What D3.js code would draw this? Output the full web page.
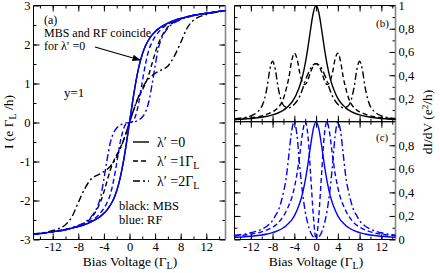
<!DOCTYPE html>
<html><head><meta charset="utf-8">
<script src="https://cdn.jsdelivr.net/npm/d3@7"></script>
<style>body{margin:0;background:#fff} svg text{font-family:"Liberation Serif","Times New Roman",serif !important;fill:#000}</style>
</head><body><svg id="c" width="440" height="273" font-family="Liberation Serif"></svg>
<script>
// ---------- data ----------
const VA = [-15,-14,-12,-10,-9,-8,-7,-6,-5,-4.5,-4,-3.5,-3,-2.5,-2,-1.5,-1,-0.5,0,0.5,1,1.5,2,2.5,3,3.5,4,4.5,5,6,7,8,9,10,12,14,15];
const I_solid   = [-2.87,-2.85,-2.8,-2.75,-2.71,-2.67,-2.62,-2.55,-2.46,-2.4,-2.33,-2.24,-2.12,-1.97,-1.75,-1.45,-1.05,-0.55,0,0.55,1.05,1.45,1.75,1.97,2.12,2.24,2.33,2.4,2.46,2.55,2.62,2.67,2.71,2.75,2.8,2.85,2.87];
const I_mbs1    = [-2.87,-2.85,-2.8,-2.74,-2.7,-2.65,-2.58,-2.45,-2.2,-2.02,-1.78,-1.5,-1.22,-1.0,-0.83,-0.67,-0.48,-0.25,0,0.25,0.48,0.67,0.83,1.0,1.22,1.5,1.78,2.02,2.2,2.45,2.58,2.65,2.7,2.74,2.8,2.85,2.87];
const I_mbs2    = [-2.86,-2.84,-2.77,-2.62,-2.42,-2.05,-1.7,-1.45,-1.35,-1.31,-1.26,-1.2,-1.12,-1.02,-0.88,-0.7,-0.49,-0.25,0,0.25,0.49,0.7,0.88,1.02,1.12,1.2,1.26,1.31,1.35,1.45,1.7,2.05,2.42,2.62,2.77,2.84,2.86];
const I_rf1     = [-2.87,-2.85,-2.8,-2.75,-2.71,-2.66,-2.6,-2.52,-2.4,-2.31,-2.2,-2.05,-1.85,-1.5,-1.05,-0.55,-0.2,-0.03,0,0.03,0.2,0.55,1.05,1.5,1.85,2.05,2.2,2.31,2.4,2.52,2.6,2.66,2.71,2.75,2.8,2.85,2.87];
const I_rf2     = [-2.87,-2.85,-2.8,-2.74,-2.7,-2.64,-2.56,-2.42,-2.15,-1.9,-1.45,-0.95,-0.52,-0.27,-0.14,-0.07,-0.03,-0.01,0,0.01,0.03,0.07,0.14,0.27,0.52,0.95,1.45,1.9,2.15,2.42,2.56,2.64,2.7,2.74,2.8,2.85,2.87];

const VB = [-15,-14,-12,-10,-9,-8.5,-8,-7.5,-7,-6,-5.5,-5,-4.5,-4,-3.5,-3,-2.5,-2,-1.5,-1,-0.5,0,0.5,1,1.5,2,2.5,3,3.5,4,4.5,5,5.5,6,7,7.5,8,8.5,9,10,12,14,15];
const G_solid = [0.017,0.02,0.027,0.038,0.047,0.052,0.059,0.066,0.075,0.1,0.117,0.14,0.165,0.2,0.25,0.31,0.39,0.5,0.64,0.8,0.94,1,0.94,0.8,0.64,0.5,0.39,0.31,0.25,0.2,0.165,0.14,0.117,0.1,0.075,0.066,0.059,0.052,0.047,0.038,0.027,0.02,0.017];
const G_mbs1  = [0.021,0.025,0.034,0.05,0.065,0.075,0.085,0.1,0.12,0.2,0.28,0.38,0.52,0.59,0.54,0.42,0.34,0.32,0.36,0.43,0.48,0.5,0.48,0.43,0.36,0.32,0.34,0.42,0.54,0.59,0.52,0.38,0.28,0.2,0.12,0.1,0.085,0.075,0.065,0.05,0.034,0.025,0.021];
const G_mbs2  = [0.025,0.03,0.05,0.13,0.3,0.45,0.52,0.45,0.3,0.14,0.125,0.12,0.13,0.15,0.18,0.22,0.28,0.35,0.41,0.46,0.49,0.5,0.49,0.46,0.41,0.35,0.28,0.22,0.18,0.15,0.13,0.12,0.125,0.14,0.3,0.45,0.52,0.45,0.3,0.13,0.05,0.03,0.025];
const G_rf1   = [0.029,0.033,0.045,0.065,0.082,0.093,0.105,0.12,0.14,0.2,0.24,0.29,0.35,0.44,0.56,0.72,0.9,1.0,0.88,0.55,0.2,0,0.2,0.55,0.88,1.0,0.9,0.72,0.56,0.44,0.35,0.29,0.24,0.2,0.14,0.12,0.105,0.093,0.082,0.065,0.045,0.033,0.029];
const G_rf2   = [0.034,0.04,0.057,0.088,0.115,0.135,0.16,0.2,0.24,0.4,0.52,0.72,0.92,1.0,0.88,0.62,0.4,0.24,0.13,0.06,0.02,0,0.02,0.06,0.13,0.24,0.4,0.62,0.88,1.0,0.92,0.72,0.52,0.4,0.24,0.2,0.16,0.135,0.115,0.088,0.057,0.04,0.034];

const xTicks = [-12,-8,-4,0,4,8,12];
const yTicksA = [-3,-2,-1,0,1,2,3];
const yTicksB = [0.2,0.4,0.6,0.8,1];
const yTicksC = [0,0.2,0.4,0.6,0.8];
const legendLabels = ["λ′ =0","λ′ =1Γ","λ′ =2Γ"];

// ---------- layout ----------
const FONT = "Liberation Serif";
const svg = d3.select("#c");
const BLUE = "#0000ff";
const styles = {solid:null, dash:"5,3", dashdot:"7,3,2,3"};

const xA = d3.scaleLinear().domain([-15,15]).range([33.5,225.5]);
const yA = d3.scaleLinear().domain([-3,3]).range([239.5,5.5]);
const xB = d3.scaleLinear().domain([-15,14.6]).range([234.5,395.5]);
const yB = d3.scaleLinear().domain([0,1]).range([121.7,5.5]);
const yC = d3.scaleLinear().domain([0,1]).range([239.5,121.7]);

function range(a,b,s){const r=[];for(let v=a;v<=b+1e-9;v+=s)r.push(+v.toFixed(6));return r;}

function frame(x, y, o){
  const [x0,x1]=x.range(), [y0,y1]=y.range();
  const g = svg.append("g");
  const fmt = d=> (d<0?"-":"")+Math.abs(d);
  function ax(axisFn, pos, ticks, minor, labels, fmtF){
    const gg = g.append("g").attr("transform",pos);
    gg.call(axisFn.tickValues(minor).tickSize(-3).tickFormat(""));
    const gm = g.append("g").attr("transform",pos);
    gm.call(axisFn.tickValues(ticks).tickSize(-6).tickPadding(3).tickFormat(labels?fmtF:""));
    [gg,gm].forEach(s=>{s.select(".domain").remove(); s.selectAll("line").attr("stroke","#000"); s.attr("font-family",FONT);});
    gm.selectAll("text").style("font-size","12.5px").attr("fill","#000").attr("font-family",FONT);
    return gm;
  }
  ax(d3.axisBottom(x), `translate(0,${y0})`, xTicks, range(-14,14,2), o.xlab, fmt);
  ax(d3.axisTop(x), `translate(0,${y1})`, xTicks, range(-14,14,2), false, fmt);
  ax(d3.axisLeft(y), `translate(${x0},0)`, o.yt, o.ym, o.ylabL, fmt);
  ax(d3.axisRight(y), `translate(${x1},0)`, o.yt, o.ym, o.ylabR, o.rfmt||fmt);
  g.append("line").attr("x1",x0).attr("x2",x1).attr("y1",y0).attr("y2",y0).attr("stroke","#000");
  g.append("line").attr("x1",x0).attr("x2",x1).attr("y1",y1).attr("y2",y1).attr("stroke","#000");
  g.append("line").attr("x1",x0).attr("x2",x0).attr("y1",y0).attr("y2",y1).attr("stroke","#000");
  g.append("line").attr("x1",x1).attr("x2",x1).attr("y1",y0).attr("y2",y1).attr("stroke","#888").attr("stroke-width",1.6);
}

frame(xA,yA,{xlab:true,ylabL:true,yt:yTicksA,ym:range(-2.5,2.5,0.5)});
const rfmt = d=> d===0?"0":(d===1?"1":d3.format(".1f")(d).replace(".",","));
frame(xB,yB,{xlab:false,ylabR:true,yt:yTicksB,ym:range(0.1,0.9,0.1),rfmt});
frame(xB,yC,{xlab:true,ylabR:true,yt:yTicksC,ym:range(0.1,0.9,0.1),rfmt});

function clip(id,x,y){
  svg.append("clipPath").attr("id",id).append("rect")
    .attr("x",x.range()[0]).attr("y",y.range()[1]).attr("width",x.range()[1]-x.range()[0]).attr("height",y.range()[0]-y.range()[1]);
}
clip("ca",xA,yA); clip("cb",xB,yB); clip("cc",xB,yC);

function curve(clipId, xs, ys, X, Y, color, style){
  const line = d3.line().x((d,i)=>X(xs[i])).y(d=>Y(d)).curve(d3.curveMonotoneX);
  svg.append("path").attr("clip-path",`url(#${clipId})`).attr("d",line(ys))
    .attr("fill","none").attr("stroke",color).attr("stroke-width",1.4)
    .attr("stroke-dasharray",styles[style]);
}
curve("ca",VA,I_mbs2,xA,yA,"#000","dashdot");
curve("ca",VA,I_mbs1,xA,yA,"#000","dash");
curve("ca",VA,I_solid,xA,yA,"#000","solid");
curve("ca",VA,I_rf2,xA,yA,BLUE,"dashdot");
curve("ca",VA,I_rf1,xA,yA,BLUE,"dash");
curve("ca",VA,I_solid,xA,yA,BLUE,"solid");

curve("cb",VB,G_mbs2,xB,yB,"#000","dashdot");
curve("cb",VB,G_mbs1,xB,yB,"#000","dash");
curve("cb",VB,G_solid,xB,yB,"#000","solid");
curve("cc",VB,G_rf2,xB,yC,BLUE,"dashdot");
curve("cc",VB,G_rf1,xB,yC,BLUE,"dash");
curve("cc",VB,G_solid,xB,yC,BLUE,"solid");

function txt(x,y,s,size,anchor){return svg.append("text").attr("x",x).attr("y",y).attr("font-family",FONT).style("font-size",size+"px").attr("text-anchor",anchor||"start").text(s);}

// legend
const legStyles=["solid","dash","dashdot"], legY=[142,161,181];
legendLabels.forEach((t,i)=>{
  svg.append("line").attr("x1",133).attr("x2",149).attr("y1",legY[i]).attr("y2",legY[i])
    .attr("stroke","#000").attr("stroke-width",1.4).attr("stroke-dasharray",styles[legStyles[i]]);
  const tx = txt(157,legY[i]+5,t,14);
  if(i>0) tx.append("tspan").attr("baseline-shift","-30%").style("font-size","10px").text("L");
});

txt(119,210,"black: MBS",12.5);
txt(119,224,"blue: RF",12.5);
txt(44,24,"(a)",12);
txt(44,37,"MBS and RF coincide",12);
txt(44,50,"for λ′ =0",12);
txt(64,97,"y=1",13);
txt(376,27,"(b)",11);
txt(376,141,"(c)",11);

svg.append("defs").append("marker").attr("id","ah").attr("viewBox","0 0 10 10").attr("refX",9).attr("refY",5)
  .attr("markerWidth",7).attr("markerHeight",7).attr("orient","auto")
  .append("path").attr("d","M0,1 L10,5 L0,9 z").attr("fill","#000");
svg.append("line").attr("x1",95).attr("y1",47).attr("x2",140).attr("y2",60).attr("stroke","#000").attr("stroke-width",1.2).attr("marker-end","url(#ah)");

function bias(cx){
  const t = txt(cx,266,"Bias Voltage (Γ",13.5,"middle");
  t.append("tspan").attr("baseline-shift","-30%").style("font-size","10px").text("L");
  t.append("tspan").text(")");
}
bias(130); bias(316);
const yl = svg.append("text").attr("font-family",FONT).attr("transform","translate(13,122) rotate(-90)").attr("text-anchor","middle").style("font-size","13.5px").text("I (e Γ");
yl.append("tspan").attr("baseline-shift","-30%").style("font-size","10px").text("L");
yl.append("tspan").text(" /h)");
const yr = svg.append("text").attr("font-family",FONT).attr("transform","translate(432,122) rotate(-90)").attr("text-anchor","middle").style("font-size","13.5px").text("dI/dV (e");
yr.append("tspan").attr("baseline-shift","40%").style("font-size","9px").text("2");
yr.append("tspan").text("/h)");
</script></body></html>
